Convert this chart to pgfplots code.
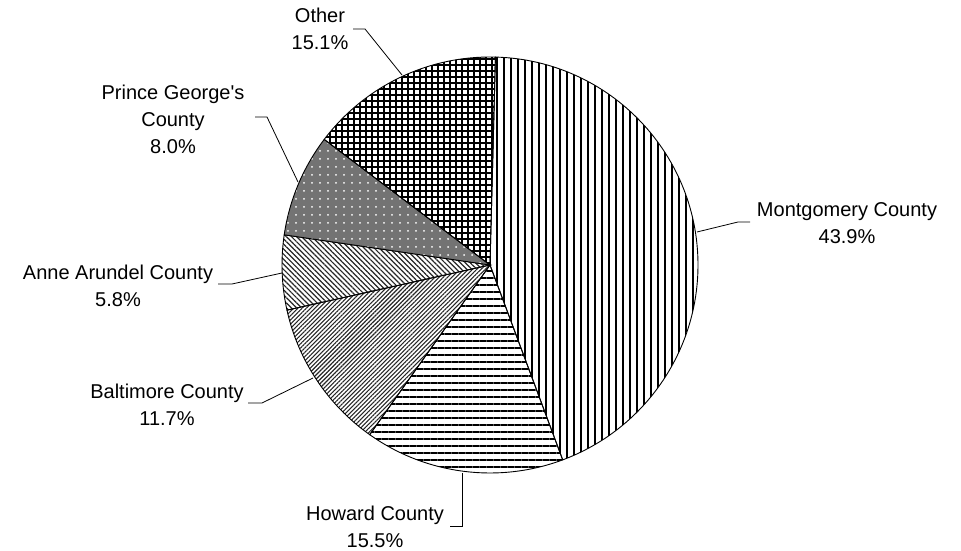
\documentclass[border=0pt]{standalone}
\usepackage{pgfplots}
\pgfplotsset{compat=1.18}
\usepackage{pgfplotstable}
\usetikzlibrary{patterns.meta}
\usepackage{fontspec}
\setmainfont{Liberation Sans}

\pgfplotstableread{
name value
Montgomery 43.9
Howard 15.5
Baltimore 11.7
AnneArundel 5.8
PrinceGeorges 8.0
Other 15.1
}\piedata

\tikzset{lab/.style={font=\fontsize{20}{27}\selectfont, align=center, inner sep=0pt}}

\begin{document}
\begin{tikzpicture}
\def\sA{88.5}
\pgfplotstablegetelem{0}{value}\of\piedata \pgfmathsetmacro\aA{\sA-3.6*\pgfplotsretval}
\pgfplotstablegetelem{1}{value}\of\piedata \pgfmathsetmacro\aB{\aA-3.6*\pgfplotsretval}
\pgfplotstablegetelem{2}{value}\of\piedata \pgfmathsetmacro\aC{\aB-3.6*\pgfplotsretval}
\pgfplotstablegetelem{3}{value}\of\piedata \pgfmathsetmacro\aD{\aC-3.6*\pgfplotsretval}
\pgfplotstablegetelem{4}{value}\of\piedata \pgfmathsetmacro\aE{\aD-3.6*\pgfplotsretval}
\pgfplotstablegetelem{5}{value}\of\piedata \pgfmathsetmacro\aF{\aE-3.6*\pgfplotsretval}
\begin{axis}[
  scale only axis, width=961pt, height=551pt,
  xmin=0, xmax=961, ymin=0, ymax=551, enlargelimits=false,
  hide axis, clip=false,
]
\addplot[draw=none, forget plot] coordinates {(0,0) (961,551)};
\def\R{208pt}
\coordinate (C) at (axis cs:490,286);
% Montgomery
\draw[line width=0.9pt, pattern={Lines[angle=90,distance=7pt,line width=1.1pt]}]
  (C) -- ++(\sA:\R) arc[start angle=\sA, end angle=\aA, radius=\R] -- cycle;
% Howard
\draw[line width=0.9pt, pattern={Lines[angle=0,distance=7pt,line width=1.3pt]}]
  (C) -- ++(\aA:\R) arc[start angle=\aA, end angle=\aB, radius=\R] -- cycle;
% Baltimore
\draw[line width=0.9pt, pattern={Lines[angle=45,distance=3pt,line width=1.1pt]}, pattern color=black!85]
  (C) -- ++(\aB:\R) arc[start angle=\aB, end angle=\aC, radius=\R] -- cycle;
% Anne Arundel
\draw[line width=0.9pt, pattern={Lines[angle=-45,distance=3.6pt,line width=1.2pt]}, pattern color=black!85]
  (C) -- ++(\aC:\R) arc[start angle=\aC, end angle=\aD, radius=\R] -- cycle;
% Prince George's
\draw[line width=0.9pt, preaction={fill=black!55}, pattern={Dots[distance=8pt,radius=1pt]}, pattern color=white]
  (C) -- ++(\aD:\R) arc[start angle=\aD, end angle=\aE, radius=\R] -- cycle;
% Other
\draw[line width=0.9pt, pattern={Hatch[angle=0,distance=6pt,line width=1.3pt]}]
  (C) -- ++(\aE:\R) arc[start angle=\aE, end angle=\aF, radius=\R] -- cycle;

% labels
\node[lab] at (axis cs:320,522) {Other\\15.1\%};
\node[lab] at (axis cs:173,432) {Prince George\textquotesingle s\\County\\8.0\%};
\node[lab] at (axis cs:118,265) {Anne Arundel County\\5.8\%};
\node[lab] at (axis cs:167,146) {Baltimore County\\11.7\%};
\node[lab] at (axis cs:375,24) {Howard County\\15.5\%};
\node[lab] at (axis cs:847,328) {Montgomery County\\43.9\%};

% leader lines
\draw[line width=0.8pt] (axis cs:353,522) -- (axis cs:365,522) -- (axis cs:402,476);
\draw[line width=0.8pt] (axis cs:255,434) -- (axis cs:267,434) -- (axis cs:298,369);
\draw[line width=0.8pt] (axis cs:218,267) -- (axis cs:232,267) -- (axis cs:282,278);
\draw[line width=0.8pt] (axis cs:248,148) -- (axis cs:262,148) -- (axis cs:313,173);
\draw[line width=0.8pt] (axis cs:450,25) -- (axis cs:462,25) -- (axis cs:462,78);
\draw[line width=0.8pt] (axis cs:750,329) -- (axis cs:738,329) -- (axis cs:697,319);
\end{axis}
\end{tikzpicture}
\end{document}
